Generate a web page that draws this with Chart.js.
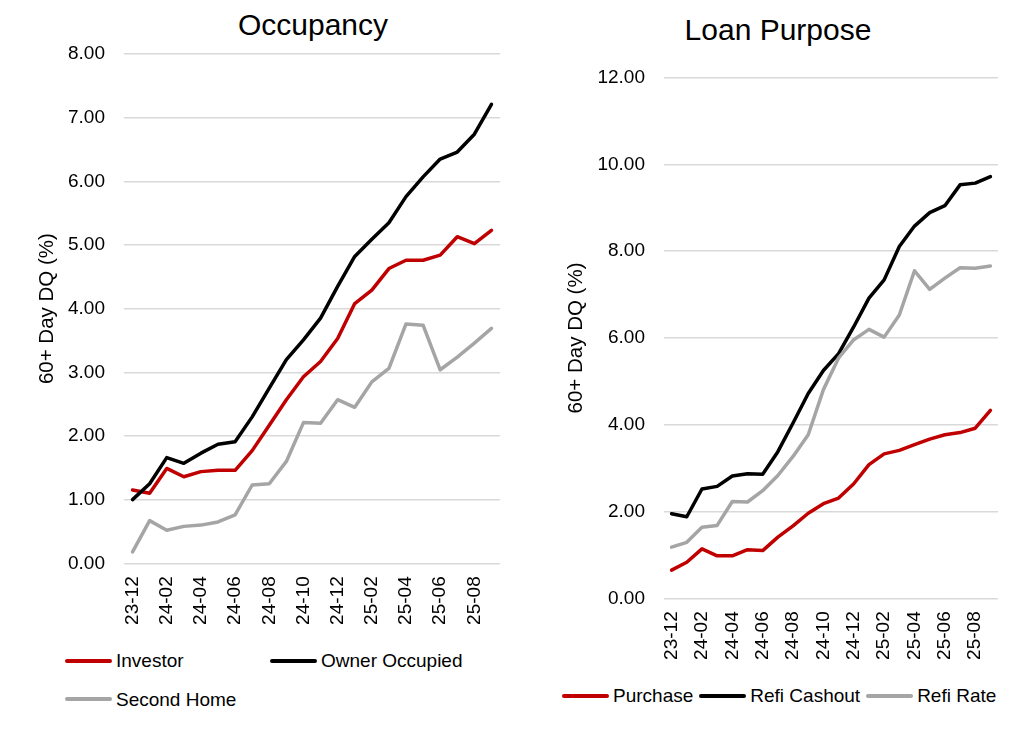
<!DOCTYPE html>
<html><head><meta charset="utf-8">
<script src="https://cdn.jsdelivr.net/npm/chart.js@4.4.1/dist/chart.umd.min.js"></script>
<style>
html,body{margin:0;padding:0;background:#fff;}
body{width:1024px;height:731px;position:relative;overflow:hidden;font-family:"Liberation Sans",Arial,sans-serif;color:#000;}
.box{position:absolute;}
.title{position:absolute;font-size:30px;line-height:30px;text-align:center;white-space:nowrap;}
.legend{position:absolute;font-size:19px;line-height:19px;}
.item{display:flex;align-items:center;white-space:nowrap;}
.sw{width:47px;height:4px;border-radius:2px;margin-right:4px;}
</style></head>
<body>
<div class="title" style="left:113px;top:10px;width:400px;">Occupancy</div>
<div class="title" style="left:578px;top:15px;width:400px;">Loan Purpose</div>
<div class="box" style="left:0;top:0;width:512px;height:640px;"><canvas id="c1"></canvas></div>
<div class="box" style="left:512px;top:0;width:512px;height:680px;"><canvas id="c2"></canvas></div>
<div class="legend" id="lg1" style="left:65px;top:651px;display:grid;grid-template-columns:205px 205px;row-gap:19.5px;"></div>
<div class="legend" id="lg2" style="left:562px;top:686px;display:flex;gap:6px;"></div>
<script>
const months = ['23-12','24-01','24-02','24-03','24-04','24-05','24-06','24-07','24-08','24-09','24-10','24-11','24-12','25-01','25-02','25-03','25-04','25-05','25-06','25-07','25-08','25-09'];

const occupancyNames = ['Investor','Owner Occupied','Second Home'];
const investor      = [1.15,1.10,1.49,1.36,1.44,1.46,1.46,1.77,2.17,2.57,2.93,3.17,3.53,4.08,4.29,4.63,4.76,4.76,4.84,5.13,5.02,5.23];
const ownerOccupied = [1.00,1.25,1.66,1.57,1.73,1.87,1.91,2.30,2.75,3.20,3.51,3.85,4.35,4.82,5.09,5.35,5.76,6.07,6.35,6.46,6.74,7.21];
const secondHome    = [0.18,0.67,0.52,0.58,0.60,0.65,0.76,1.23,1.25,1.60,2.21,2.20,2.57,2.45,2.85,3.06,3.76,3.74,3.04,3.24,3.46,3.69];

const purposeNames = ['Purchase','Refi Cashout','Refi Rate'];
const purchase    = [0.65,0.83,1.14,0.98,0.98,1.12,1.10,1.41,1.67,1.96,2.18,2.31,2.64,3.08,3.33,3.41,3.54,3.67,3.77,3.82,3.92,4.33];
const refiCashout = [1.95,1.88,2.52,2.58,2.82,2.87,2.86,3.38,4.04,4.72,5.25,5.64,6.26,6.92,7.34,8.11,8.58,8.89,9.05,9.53,9.57,9.72];
const refiRate    = [1.18,1.29,1.64,1.68,2.23,2.22,2.48,2.83,3.27,3.77,4.81,5.54,5.96,6.20,6.02,6.53,7.55,7.12,7.38,7.62,7.61,7.66];

const seriesColors = ['#C00000','#000000','#A5A5A5'];
const axisTitle = '60+ Day DQ (%)';
const FONT = '"Liberation Sans", Arial, sans-serif';

function makeChart(id, names, data, yMax, yStep, pad, yWidth) {
  const datasets = data.map((d, i) => ({
    label: names[i], data: d, borderColor: seriesColors[i], backgroundColor: seriesColors[i],
    borderWidth: 3.5, pointRadius: 0, tension: 0, fill: false,
    borderJoinStyle: 'round', borderCapStyle: 'round', order: data.length - i
  }));
  return new Chart(document.getElementById(id), {
    type: 'line',
    data: { labels: months, datasets },
    options: {
      responsive: true, maintainAspectRatio: false, animation: false,
      layout: { padding: pad },
      plugins: { legend: { display: false }, tooltip: { enabled: false }, title: { display: false } },
      scales: {
        x: {
          type: 'category', offset: true,
          grid: { display: false, drawTicks: false }, border: { display: false },
          ticks: {
            autoSkip: false, minRotation: 90, maxRotation: 90, padding: 13, color: '#000',
            font: { family: FONT, size: 19 },
            callback: function (v, i) { return i % 2 === 0 ? this.getLabelForValue(v) : ''; }
          },
          afterFit: (a) => { a.height = 70; a.paddingLeft = 0; a.paddingRight = 0; }
        },
        y: {
          min: 0, max: yMax,
          grid: { color: '#d9d9d9', lineWidth: 1.5, drawTicks: false }, border: { display: false },
          ticks: { stepSize: yStep, padding: 19, color: '#000', font: { family: FONT, size: 19 },
                   callback: (v) => Number(v).toFixed(2) },
          title: { display: true, text: axisTitle, color: '#000', font: { family: FONT, size: 20.5 }, padding: 0 },
          afterFit: (a) => { a.width = yWidth; a.paddingTop = 0; a.paddingBottom = 0; }
        }
      }
    }
  });
}

makeChart('c1', occupancyNames, [investor, ownerOccupied, secondHome], 8, 1,
  { left: 35, right: 12, top: 54, bottom: 6.7 }, 89);
makeChart('c2', purposeNames, [purchase, refiCashout, refiRate], 12, 2,
  { left: 52, right: 26, top: 77.7, bottom: 11.7 }, 100);

function buildLegend(id, names) {
  const el = document.getElementById(id);
  names.forEach((n, i) => {
    const it = document.createElement('div'); it.className = 'item';
    const sw = document.createElement('div'); sw.className = 'sw'; sw.style.background = seriesColors[i];
    const tx = document.createElement('span'); tx.textContent = n;
    it.appendChild(sw); it.appendChild(tx); el.appendChild(it);
  });
}
buildLegend('lg1', occupancyNames);
buildLegend('lg2', purposeNames);
</script>
</body></html>
